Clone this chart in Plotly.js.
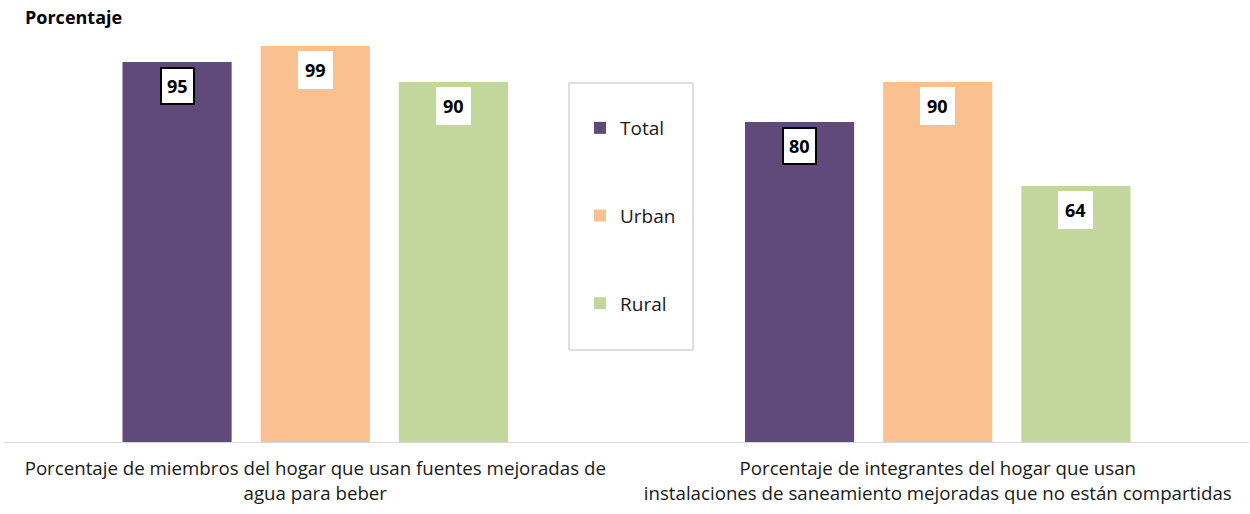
<!DOCTYPE html>
<html>
<head>
<meta charset="utf-8">
<script src="https://cdn.plot.ly/plotly-3.0.1.min.js"></script>
<style>
  body { margin: 0; background: #fff; }
  #chart { width: 1250px; height: 514px; }
</style>
</head>
<body>
<div id="chart"></div>
<script>
// data
const categories = [
  'Porcentaje de miembros del hogar que usan fuentes mejoradas de<br>agua para beber',
  'Porcentaje de integrantes del hogar que usan<br>instalaciones de saneamiento mejoradas que no están compartidas'
];
const seriesNames = ['Total', 'Urban', 'Rural'];
const totalValues = [95, 80];
const urbanValues = [99, 90];
const ruralValues = [90, 64];

const colors = ['#604A7B', '#FAC090', '#C3D69B'];
const font = '"Open Sans", Lato, sans-serif';
const bargap = 0.334;

const allValues = [totalValues, urbanValues, ruralValues];

const traces = allValues.map((vals, i) => ({
  type: 'bar',
  name: seriesNames[i],
  x: [0, 1],
  y: vals,
  marker: { color: colors[i] },
  legendgroup: 'g' + i,
  hoverinfo: 'none'
}));

// value boxes: one per bar, placed at the bar's own offset inside the group
const slot = (1 - bargap) / 3;
const annotations = [];
allValues.forEach((vals, i) => {
  vals.forEach((v, j) => {
    annotations.push({
      x: j + (i - 1) * slot,
      y: v,
      xref: 'x', yref: 'y',
      yanchor: 'top',
      yshift: -5,
      text: '<b>' + v + '</b>',
      showarrow: false,
      font: { family: font, size: 18, color: '#000' },
      bgcolor: '#fff',
      bordercolor: i === 0 ? '#000' : '#fff',
      borderwidth: 2,
      borderpad: 5
    });
  });
});

const layout = {
  width: 1250,
  height: 514,
  margin: { l: 4, r: 1, t: 42, b: 72 },
  paper_bgcolor: '#fff',
  plot_bgcolor: '#fff',
  font: { family: font, color: '#000' },
  title: {
    text: '<b>Porcentaje</b>',
    x: 25 / 1250, xanchor: 'left',
    y: 1 - 18 / 514, yanchor: 'middle',
    font: { family: font, size: 18, color: '#000' }
  },
  barmode: 'group',
  bargap: bargap,
  bargroupgap: 0.21,
  xaxis: {
    tickmode: 'array',
    tickvals: [0, 1],
    ticktext: categories,
    range: [-0.5, 1.5],
    showline: true,
    linecolor: '#d9d9d9',
    linewidth: 1,
    ticks: '',
    ticklabelstandoff: 10,
    showgrid: false,
    tickfont: { family: font, size: 18.7, color: '#1a1a1a' }
  },
  yaxis: {
    range: [0, 100],
    showticklabels: false,
    showgrid: false,
    zeroline: false,
    showline: false
  },
  showlegend: true,
  legend: {
    x: (580 - 4) / 1245, xanchor: 'left',
    y: 1 - (109 - 42) / 400, yanchor: 'top',
    bgcolor: 'rgba(0,0,0,0)',
    borderwidth: 0,
    tracegroupgap: 60,
    font: { family: font, size: 19, color: '#1a1a1a' }
  },
  shapes: [{
    type: 'rect',
    xref: 'paper', yref: 'paper',
    x0: (569 - 4) / 1245, x1: (693 - 4) / 1245,
    y0: (442 - 350) / 400, y1: (442 - 83) / 400,
    line: { color: '#bfbfbf', width: 1 },
    fillcolor: 'rgba(0,0,0,0)'
  }],
  annotations: annotations
};

Plotly.newPlot('chart', traces, layout, { displayModeBar: false, staticPlot: true });
</script>
</body>
</html>
